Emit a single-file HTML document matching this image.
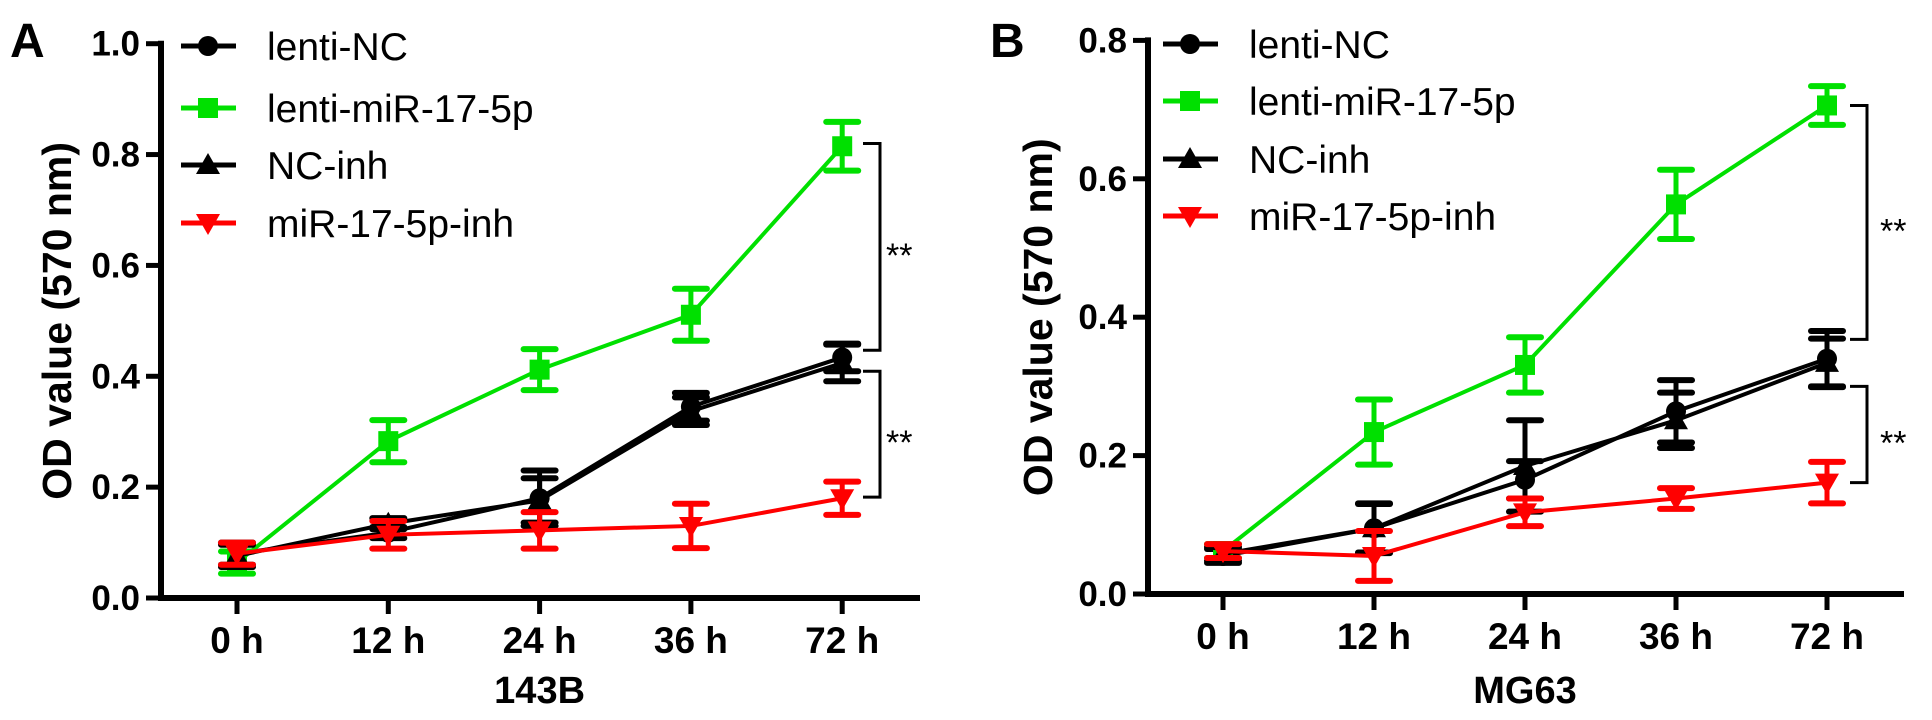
<!DOCTYPE html>
<html><head><meta charset="utf-8">
<style>
html,body{margin:0;padding:0;background:#fff;}
svg{display:block;font-family:"Liberation Sans",Arial,sans-serif;}
</style></head>
<body>
<svg id="fig" width="1932" height="720" viewBox="0 0 1932 720" xmlns="http://www.w3.org/2000/svg"></svg>
<script>
const categories = ["0 h","12 h","24 h","36 h","72 h"];
const seriesNames = ["lenti-NC","lenti-miR-17-5p","NC-inh","miR-17-5p-inh"];
// Panel A (143B)
const aNC      = [0.080,0.118,0.180,0.345,0.434];
const aNCerr   = [0.020,0.010,0.050,0.025,0.025];
const aMiR     = [0.064,0.283,0.412,0.511,0.815];
const aMiRerr  = [0.020,0.038,0.037,0.047,0.044];
const aNCinh   = [0.076,0.134,0.176,0.337,0.424];
const aNCinhErr= [0.020,0.010,0.040,0.025,0.033];
const aInh     = [0.080,0.114,0.122,0.130,0.180];
const aInhErr  = [0.020,0.025,0.033,0.040,0.030];
const aTicks   = [0.0,0.2,0.4,0.6,0.8,1.0];
// Panel B (MG63)
const bNC      = [0.055,0.095,0.165,0.264,0.340];
const bNCerr   = [0.010,0.035,0.027,0.045,0.040];
const bMiR     = [0.062,0.234,0.331,0.563,0.706];
const bMiRerr  = [0.010,0.047,0.040,0.050,0.028];
const bNCinh   = [0.058,0.095,0.185,0.251,0.334];
const bNCinhErr= [0.010,0.036,0.066,0.040,0.035];
const bInh     = [0.062,0.055,0.118,0.138,0.161];
const bInhErr  = [0.010,0.036,0.020,0.015,0.030];
const bTicks   = [0.0,0.2,0.4,0.6,0.8];

const NS="http://www.w3.org/2000/svg";
const svg=document.getElementById('fig');
function mk(tag,attrs,parent){const e=document.createElementNS(NS,tag);for(const k in attrs)e.setAttribute(k,attrs[k]);(parent||svg).appendChild(e);return e;}

const colors=["#000000","#00e000","#000000","#ff0000"];
const markers=["circle","square","tri","itri"];

function marker(g,type,x,y,c){
  let e;
  if(type==="circle") e=mk('circle',{cx:x,cy:y,r:10,fill:c},g);
  else if(type==="square") e=mk('rect',{x:x-10,y:y-10,width:20,height:20,fill:c},g);
  else if(type==="tri") e=mk('polygon',{points:`${x},${y-12} ${x-12},${y+9} ${x+12},${y+9}`,fill:c},g);
  else e=mk('polygon',{points:`${x},${y+12} ${x-12},${y-9} ${x+12},${y-9}`,fill:c},g);
  return e;
}

function panel(cfg){
  const {axX,y0,y1,vmax,x0h,dx,xEnd,ticks,data,errs,label,labelX,titleX,legX,legY,brackets,bx1,bx2,starX,xtitle} = cfg;
  const ys=v=>y0-(y0-y1)*v/vmax;
  const xs=i=>x0h+dx*i;
  const g=mk('g',{});
  
  
  // panel letter
  const pl=mk('text',{x:labelX,y:57,'font-size':48,'font-weight':'bold'},g);pl.textContent=label;
  
  // axes
  const ya=mk('line',{x1:axX,y1:y1-3,x2:axX,y2:y0+3,stroke:'#000','stroke-width':6},g);
  
  const xa=mk('line',{x1:axX-3,y1:y0,x2:xEnd,y2:y0,stroke:'#000','stroke-width':6},g);
  
  ticks.forEach(t=>{
    const y=ys(t);
    mk('line',{x1:axX-15,y1:y,x2:axX,y2:y,stroke:'#000','stroke-width':5},g);
    const tl=mk('text',{x:axX-21,y:y+12,'font-size':35,'font-weight':'bold','text-anchor':'end'},g);
    tl.textContent=t.toFixed(1);
    
  });
  categories.forEach((c,i)=>{
    const x=xs(i);
    mk('line',{x1:x,y1:y0,x2:x,y2:y0+16,stroke:'#000','stroke-width':5},g);
    const tl=mk('text',{x:x,y:y0+55,'font-size':37,'font-weight':'bold','text-anchor':'middle'},g);
    tl.textContent=c;
    
  });
  const xt=mk('text',{x:x0h+dx*2,y:703,'font-size':38,'font-weight':'bold','text-anchor':'middle'},g);
  xt.textContent=xtitle;
  const yc=(y0+y1)/2;
  const yt=mk('text',{x:titleX,y:yc,'font-size':41,'font-weight':'bold','text-anchor':'middle',transform:`rotate(-90 ${titleX} ${yc})`,dy:14},g);
  yt.textContent="OD value (570 nm)";
  // series
  data.forEach((vals,s)=>{
    const sg=mk('g',{},g);
    
    
    const c=colors[s];
    mk('polyline',{points:vals.map((v,i)=>xs(i)+','+ys(v)).join(' '),fill:'none',stroke:c,'stroke-width':4},sg);
    vals.forEach((v,i)=>{
      const x=xs(i),e=errs[s][i];
      const top=ys(v+e),bot=ys(v-e);
      mk('line',{x1:x,y1:top,x2:x,y2:bot,stroke:c,'stroke-width':5},sg);
      mk('line',{x1:x-16,y1:top,x2:x+16,y2:top,stroke:c,'stroke-width':6,'stroke-linecap':'round'},sg);
      mk('line',{x1:x-16,y1:bot,x2:x+16,y2:bot,stroke:c,'stroke-width':6,'stroke-linecap':'round'},sg);
      const m=marker(sg,markers[s],x,ys(v),c);
      
      
    });
  });
  // legend
  seriesNames.forEach((n,s)=>{
    const ly=legY[s];
    const lg=mk('g',{},g);
    
    
    mk('line',{x1:legX,y1:ly,x2:legX+55,y2:ly,stroke:colors[s],'stroke-width':5},lg);
    marker(lg,markers[s],legX+27,ly,colors[s]);
    const t=mk('text',{x:legX+86,y:ly+14,'font-size':39},lg);t.textContent=n;
  });
  // brackets
  brackets.forEach(b=>{
    const t=ys(b[0]),bo=ys(b[1]);
    const br=mk('polyline',{points:`${bx1},${t} ${bx2},${t} ${bx2},${bo} ${bx1},${bo}`,fill:'none',stroke:'#000','stroke-width':3},g);
    
    const st=mk('text',{x:starX,y:(t+bo)/2+20,'font-size':34},g);st.textContent="**";
    
  });
}

panel({name:'panel-a-143b',axX:161,y0:598,y1:43.7,vmax:1.0,x0h:237,dx:151.3,xEnd:920,ticks:aTicks,
  data:[aNC,aMiR,aNCinh,aInh],errs:[aNCerr,aMiRerr,aNCinhErr,aInhErr],
  label:'A',labelX:10,titleX:57,legX:181,legY:[46,108,165,223],
  brackets:[[0.82,0.447],[0.409,0.182]],bx1:863,bx2:880,starX:886,xtitle:'143B'});
panel({name:'panel-b-mg63',axX:1148,y0:594,y1:40.4,vmax:0.8,x0h:1223,dx:151,xEnd:1904,ticks:bTicks,
  data:[bNC,bMiR,bNCinh,bInh],errs:[bNCerr,bMiRerr,bNCinhErr,bInhErr],
  label:'B',labelX:990,titleX:1038,legX:1163,legY:[44,101,159,216],
  brackets:[[0.706,0.368],[0.30,0.161]],bx1:1850,bx2:1867,starX:1880,xtitle:'MG63'});
</script>
</body></html>
